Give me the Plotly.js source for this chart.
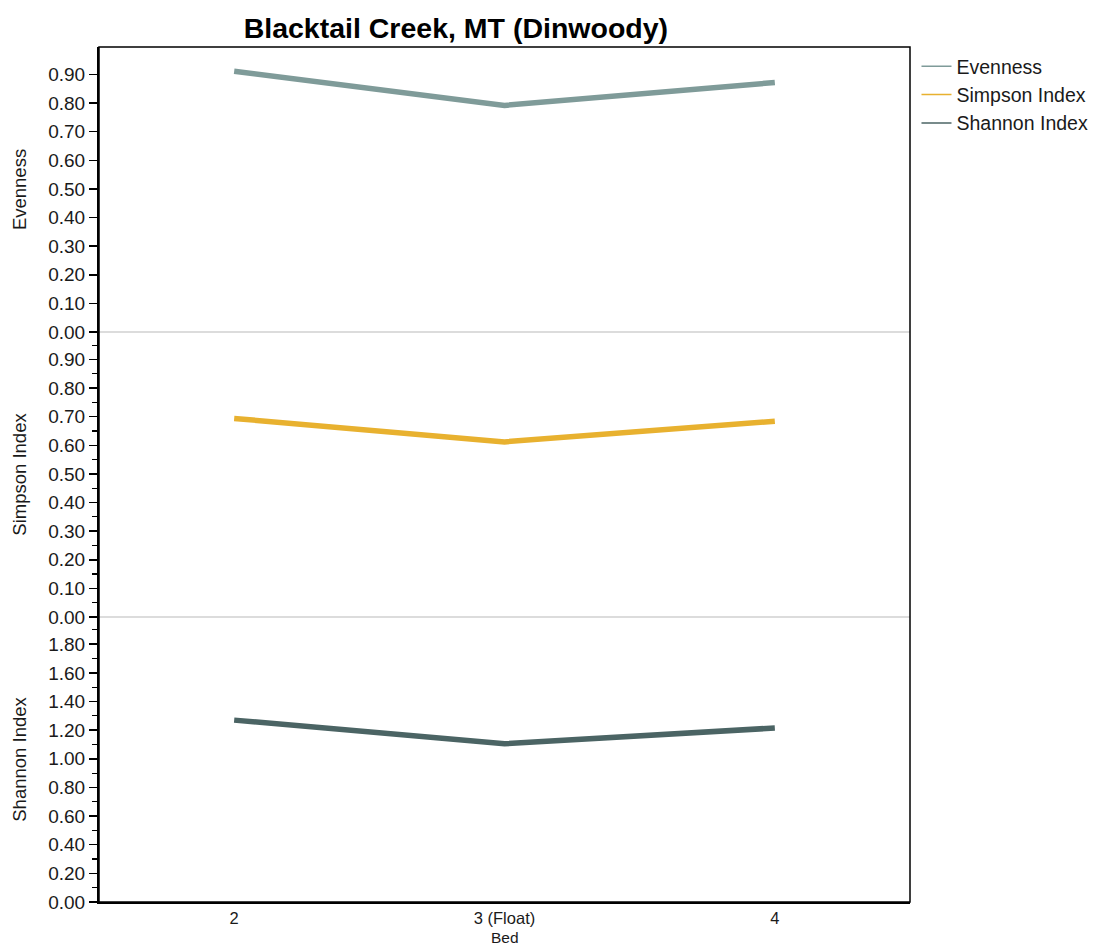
<!DOCTYPE html>
<html>
<head>
<meta charset="utf-8">
<script src="https://cdn.plot.ly/plotly-3.0.1.min.js"></script>
<style>html,body{margin:0;padding:0;background:#fff;}#chart{width:1094px;height:945px;}</style>
</head>
<body>
<div id="chart"></div>
<script>
const beds = ["2", "3 (Float)", "4"];
const evenness = [0.911, 0.792, 0.872];
const simpson = [0.694, 0.612, 0.684];
const shannon = [1.27, 1.105, 1.215];
const seriesNames = ["Evenness", "Simpson Index", "Shannon Index"];
const seriesColors = ["#7f9b99", "#e8b12f", "#4b6464"];
const xTitle = "Bed";

const FONT = "Liberation Sans, Arial, Helvetica, sans-serif";
const values = [evenness, simpson, shannon];
const yaxes = ["y", "y2", "y3"];

const traces = [];
values.forEach((v, i) => {
  traces.push({
    x: beds, y: v, type: "scatter", mode: "lines",
    name: seriesNames[i], xaxis: "x", yaxis: yaxes[i],
    line: {color: seriesColors[i], width: 5.5}, showlegend: false
  });
});
values.forEach((v, i) => {
  traces.push({
    x: [null], y: [null], type: "scatter", mode: "lines",
    name: seriesNames[i], xaxis: "x", yaxis: yaxes[i],
    line: {color: seriesColors[i], width: 1.5}, showlegend: true
  });
});

function yAxis(domain, range, dtick, minorDtick, title) {
  const ax = {
    domain: domain, range: range, dtick: dtick, tick0: 0,
    tickformat: ".2f", showgrid: false,
    showline: true, linecolor: "#000", linewidth: 2,
    ticks: "outside", ticklen: 8, tickwidth: 1.5, tickcolor: "#000",
    zeroline: true, zerolinecolor: "#dcdcdc", zerolinewidth: 1.5,
    tickfont: {family: FONT, size: 19, color: "#1a1a1a"},
    title: {text: title, font: {family: FONT, size: 18.5, color: "#1a1a1a"}, standoff: 17},
    anchor: "x", fixedrange: true, automargin: false
  };
  if (minorDtick) {
    ax.minor = {dtick: minorDtick, ticks: "outside", ticklen: 5, tickwidth: 1.2, tickcolor: "#000", showgrid: false};
  }
  return ax;
}

const layout = {
  width: 1094, height: 945,
  margin: {l: 99, r: 184, t: 47, b: 43, autoexpand: false},
  paper_bgcolor: "#fff", plot_bgcolor: "#fff",
  title: {text: "<b>Blacktail Creek, MT (Dinwoody)</b>", font: {family: FONT, size: 28.5, color: "#000"},
          xref: "paper", x: 0.44, xanchor: "center", yref: "container", y: 0.97, yanchor: "middle"},
  xaxis: {
    type: "category", range: [-0.5, 2.5], anchor: "y3",
    showline: true, linecolor: "#000", linewidth: 2, ticks: "", showgrid: false,
    tickfont: {family: FONT, size: 16.5, color: "#1a1a1a"}, ticklabelstandoff: 0,
    fixedrange: true, automargin: false
  },
  yaxis: yAxis([2/3, 1], [0, 0.996], 0.1, null, "Evenness"),
  yaxis2: yAxis([1/3, 2/3], [0, 0.996], 0.1, 0.05, "Simpson Index"),
  yaxis3: yAxis([0, 1/3], [0, 1.99], 0.2, 0.1, "Shannon Index"),
  annotations: [
    {text: xTitle, xref: "paper", yref: "paper", x: 0.5, y: 0, xanchor: "center", yanchor: "top",
     yshift: -25.5, showarrow: false, font: {family: FONT, size: 15.5, color: "#1a1a1a"}, borderpad: 0}
  ],
  legend: {x: 1.008, y: 1.0, xanchor: "left", yanchor: "top",
           font: {family: FONT, size: 19.5, color: "#1a1a1a"}, bgcolor: "rgba(0,0,0,0)",
           tracegroupgap: 0, itemwidth: 30},
  shapes: [
    {type: "rect", xref: "paper", yref: "paper", x0: 0, x1: 1, y0: 0, y1: 1,
     line: {color: "#000", width: 1.5}, fillcolor: "rgba(0,0,0,0)", layer: "above"}
  ],
  showlegend: true,
  hovermode: false
};

Plotly.newPlot("chart", traces, layout, {displayModeBar: false, staticPlot: true});
</script>
</body>
</html>
